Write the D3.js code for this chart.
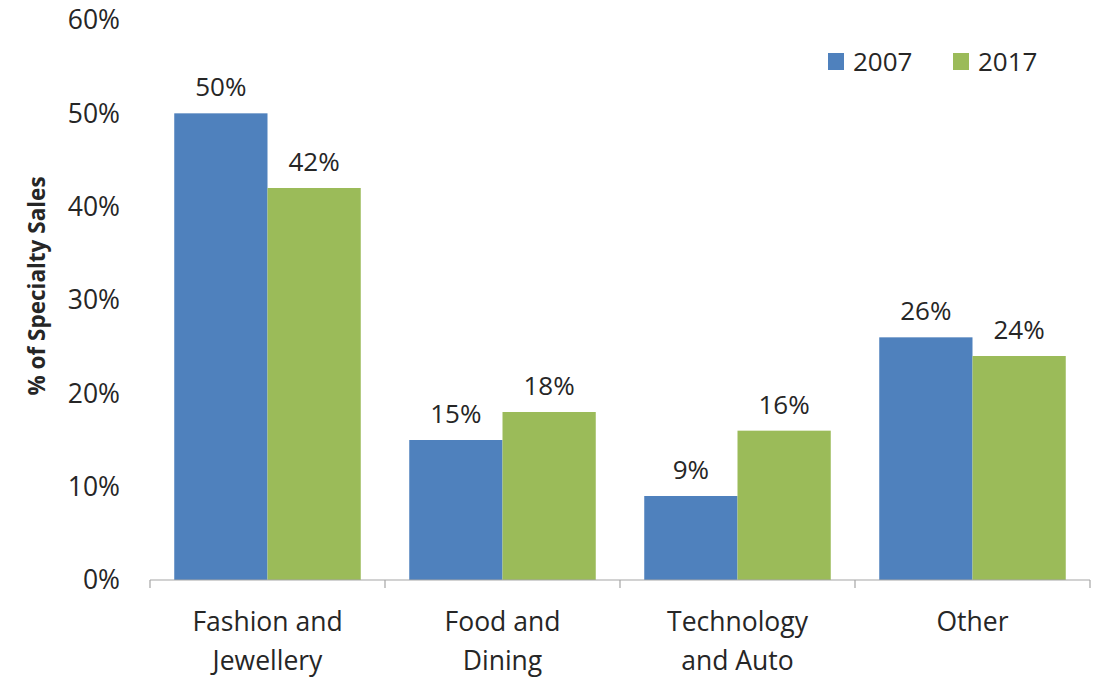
<!DOCTYPE html>
<html>
<head>
<meta charset="utf-8">
<script src="https://cdn.jsdelivr.net/npm/d3@7"></script>
<style>
  body { margin: 0; background: #fff; }
  text { font-family: "Open Sans", sans-serif; fill: #262626; }
</style>
</head>
<body>
<svg id="chart" width="1095" height="678"></svg>
<script>
// chart data
var categories = [["Fashion and", "Jewellery"], ["Food and", "Dining"], ["Technology", "and Auto"], ["Other"]];
var series = ["2007", "2017"];
var values2007 = [50, 15, 9, 26];
var values2017 = [42, 18, 16, 24];
var yTicks = [0, 10, 20, 30, 40, 50, 60];
var colors = ["#4f81bd", "#9bbb59"];

var svg = d3.select("#chart");
var keys = categories.map(function(c, i){ return "c" + i; });

var x0 = d3.scaleBand().domain(keys).range([150, 1090]);
var x1 = d3.scaleBand().domain(series).range([0, x0.bandwidth()]).paddingOuter(0.26);
var y = d3.scaleLinear().domain([0, 60]).range([580, 20]);

var rows = keys.map(function(k, i){
    return {key: k, vals: [values2007[i], values2017[i]]};
});

// y tick labels (no axis line)
svg.append("g").selectAll("text")
    .data(yTicks).enter().append("text")
    .attr("x", 120)
    .attr("y", function(d){ return y(d); })
    .attr("dy", "0.35em")
    .attr("text-anchor", "end")
    .attr("font-size", "26.5px")
    .text(function(d){ return d + "%"; });

// bars
var groups = svg.append("g").selectAll("g")
    .data(rows).enter().append("g")
    .attr("transform", function(d){ return "translate(" + x0(d.key) + ",0)"; });

groups.selectAll("rect")
    .data(function(d){ return d.vals.map(function(v, j){ return {s: series[j], v: v, j: j}; }); })
    .enter().append("rect")
    .attr("x", function(d){ return x1(d.s); })
    .attr("width", x1.bandwidth())
    .attr("y", function(d){ return y(d.v); })
    .attr("height", function(d){ return y(0) - y(d.v); })
    .attr("fill", function(d){ return colors[d.j]; });

groups.selectAll("text.lbl")
    .data(function(d){ return d.vals.map(function(v, j){ return {s: series[j], v: v}; }); })
    .enter().append("text")
    .attr("class", "lbl")
    .attr("x", function(d){ return x1(d.s) + x1.bandwidth() / 2; })
    .attr("y", function(d){ return y(d.v) - 17; })
    .attr("text-anchor", "middle")
    .attr("font-size", "26px")
    .text(function(d){ return d.v + "%"; });

// x axis
var xAxis = svg.append("g").attr("transform", "translate(0,580)");
xAxis.append("line")
    .attr("x1", x0.range()[0]).attr("x2", x0.range()[1])
    .attr("stroke", "#a6a6a6").attr("stroke-width", 1.2);
xAxis.selectAll("line.tick")
    .data(keys.concat(["end"])).enter().append("line")
    .attr("class", "tick")
    .attr("x1", function(d){ return d == "end" ? x0.range()[1] : x0(d); })
    .attr("x2", function(d){ return d == "end" ? x0.range()[1] : x0(d); })
    .attr("y1", 0).attr("y2", 8)
    .attr("stroke", "#a6a6a6").attr("stroke-width", 1.2);

var catLabels = xAxis.selectAll("text")
    .data(rows).enter().append("text")
    .attr("x", function(d){ return x0(d.key) + x0.bandwidth() / 2; })
    .attr("y", 51)
    .attr("text-anchor", "middle")
    .attr("font-size", "26.5px");
catLabels.selectAll("tspan")
    .data(function(d, i){ return categories[i]; })
    .enter().append("tspan")
    .attr("x", function(){ var p = d3.select(this.parentNode).datum(); return x0(p.key) + x0.bandwidth() / 2; })
    .attr("dy", function(d, i){ return i == 0 ? 0 : 39; })
    .text(function(d){ return d; });

// y axis title
svg.append("text")
    .attr("transform", "translate(45,286) rotate(-90)")
    .attr("text-anchor", "middle")
    .attr("font-size", "22.5px")
    .attr("font-weight", "bold")
    .text("% of Specialty Sales");

// legend
var legend = svg.append("g").selectAll("g")
    .data(series).enter().append("g")
    .attr("transform", function(d, i){ return "translate(" + (828 + i * 125) + ",53)"; });
legend.append("rect")
    .attr("width", 16).attr("height", 17)
    .attr("fill", function(d, i){ return colors[i]; });
legend.append("text")
    .attr("x", 25).attr("y", 9)
    .attr("dy", "0.35em")
    .attr("font-size", "26px")
    .text(function(d){ return d; });
</script>
</body>
</html>
